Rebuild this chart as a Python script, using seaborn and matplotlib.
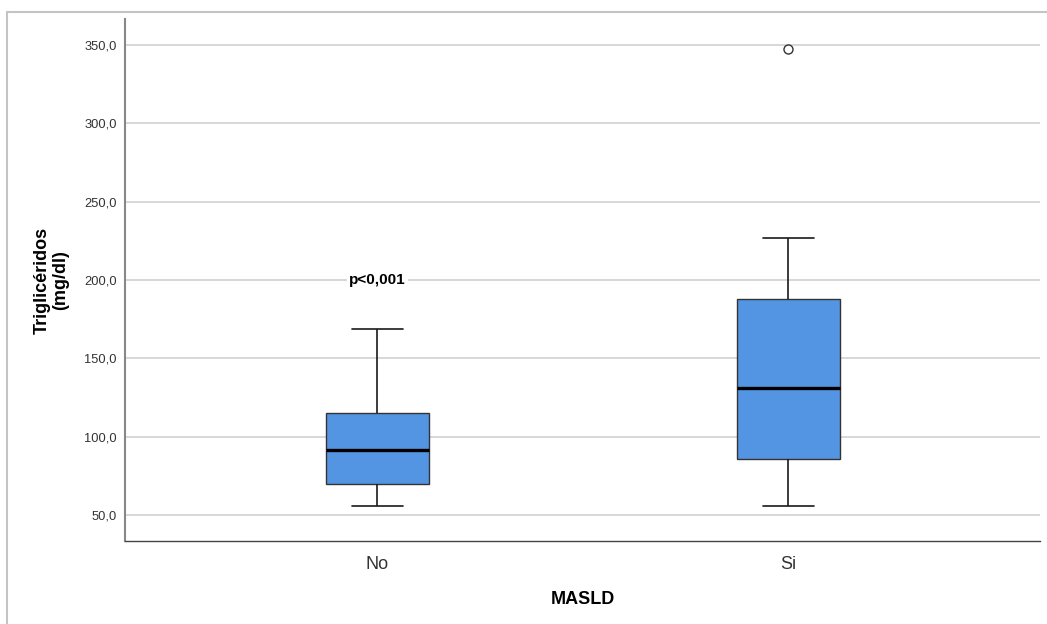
import pandas as pd
import matplotlib.pyplot as plt
import seaborn as sns
from matplotlib.lines import Line2D

# Values (five-number summary per group, plus outlier)
groups = ['No', 'Si']
no_values = [56, 70, 91.5, 115, 169]
si_values = [56, 86, 86, 131, 131, 188, 188, 227, 347]
y_ticks = [50, 100, 150, 200, 250, 300, 350]
p_text = 'p<0,001'

data = pd.DataFrame({
    'MASLD': ['No'] * len(no_values) + ['Si'] * len(si_values),
    'Trigliceridos': no_values + si_values,
})

sns.set_style('white')
plt.rcParams['font.family'] = ['Liberation Sans', 'DejaVu Sans']

fig = plt.figure(figsize=(10.47, 6.24), dpi=100)
ax = fig.add_axes([125 / 1047, 1 - 541 / 624, 915 / 1047, 522 / 624])

sns.boxplot(x='MASLD', y='Trigliceridos', data=data, order=groups, ax=ax,
            color='#5495E3', saturation=1, width=0.25,
            linecolor='#333333', linewidth=1.0, fliersize=6.5,
            medianprops=dict(color='black', linewidth=2.4),
            whiskerprops=dict(color='#1a1a1a', linewidth=1.2),
            capprops=dict(color='#1a1a1a', linewidth=1.2),
            flierprops=dict(marker='o', markerfacecolor='white',
                            markeredgecolor='#333333', markeredgewidth=1.0))

ax.set_xlim(-0.614, 1.612)
ax.set_ylim(33.7, 366.3)
ax.set_yticks(y_ticks)
ax.set_yticklabels([f'{v:.1f}'.replace('.', ',') for v in y_ticks])
ax.yaxis.grid(True, color='#d4d4d4', linewidth=1.3)
ax.set_axisbelow(True)

ax.tick_params(axis='y', length=0, pad=6, labelsize=9.3, labelcolor='#333333')
ax.tick_params(axis='x', length=0, pad=11, labelsize=13, labelcolor='#333333')

for side in ['top', 'right']:
    ax.spines[side].set_visible(False)
ax.spines['left'].set_color('#888888')
ax.spines['left'].set_linewidth(1.5)
ax.spines['bottom'].set_color('#444444')
ax.spines['bottom'].set_linewidth(1.0)

ax.set_xlabel('MASLD', fontsize=13, fontweight='bold', va='center', color='black')
ax.xaxis.set_label_coords(0.5, -0.113)
ax.set_ylabel('Triglicéridos\n(mg/dl)', fontsize=13, fontweight='bold',
              va='center', linespacing=1.12, color='black')
ax.yaxis.set_label_coords(-0.080, 0.5)

ax.text(0, 200, p_text, ha='center', va='center', fontsize=11,
        fontweight='bold', color='black',
        bbox=dict(facecolor='white', edgecolor='none', pad=1.5))

# outer frame of the original output window
frame_kw = dict(color='#c4c4c4', linewidth=1.5, transform=fig.transFigure)
fig.add_artist(Line2D([7 / 1047, 7 / 1047], [0, 1 - 12 / 624], **frame_kw))
fig.add_artist(Line2D([7 / 1047, 1], [1 - 12 / 624, 1 - 12 / 624], **frame_kw))

fig.savefig('out.png', dpi=100)
